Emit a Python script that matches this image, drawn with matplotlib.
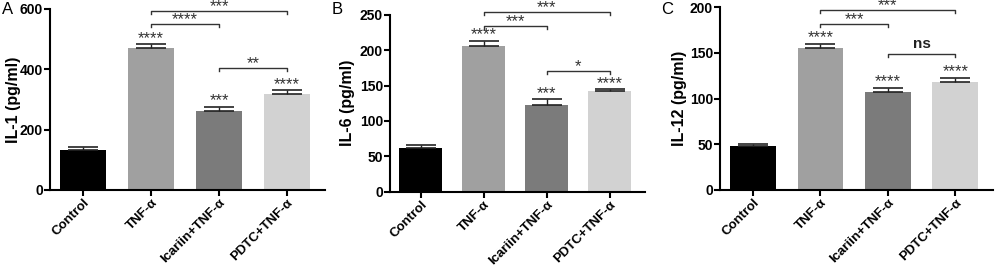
import matplotlib
matplotlib.use('Agg')
import matplotlib.pyplot as plt

plt.rcParams['font.family'] = ['Liberation Sans', 'DejaVu Sans']

groups = ['Control', 'TNF-α', 'Icariin+TNF-α', 'PDTC+TNF-α']
bar_colors = ['#000000', '#a0a0a0', '#7b7b7b', '#d2d2d2']

# Panel A: IL-1
il1_mean = [133, 470, 262, 318]
il1_err = [9, 13, 14, 13]
il1_stars = ['', '****', '***', '****']
# brackets: (start, end, height, label)
il1_brackets = [(1, 3, 592, '***'), (1, 2, 550, '****'), (2, 3, 404, '**')]

# Panel B: IL-6
il6_mean = [62, 206, 122, 143]
il6_err = [4, 7, 9, 2]
il6_stars = ['', '****', '***', '****']
il6_brackets = [(1, 3, 254, '***'), (1, 2, 234, '***'), (2, 3, 171, '*')]

# Panel C: IL-12
il12_mean = [48, 155, 107, 118]
il12_err = [2, 5, 5, 5]
il12_stars = ['', '****', '****', '****']
il12_brackets = [(1, 3, 197, '***'), (1, 2, 182, '***'), (2, 3, 149, 'ns')]


def draw_panel(ax, means, errs, stars, brackets, ymax, ystep, ylabel, label_x):
    x = list(range(len(groups)))
    ax.bar(x, means, width=0.68, color=bar_colors, zorder=2)
    ax.errorbar(x, means, yerr=[[0] * len(errs), errs], fmt='none',
                ecolor='#222222', elinewidth=1, capsize=11, capthick=1.2, zorder=3)
    # asterisks sit high in the glyph box, so anchor on the baseline
    for xi, m, e, s in zip(x, means, errs, stars):
        if s:
            ax.annotate(s, (xi, m + e), xytext=(0, 1), textcoords='offset points',
                        ha='center', va='baseline', fontsize=12, color='#333333',
                        annotation_clip=False)
    leg = ymax * 0.017
    for a, b, h, lab in brackets:
        ax.plot([a, a, b, b], [h - leg, h, h, h - leg], color='#333333',
                lw=1, clip_on=False)
        if lab == 'ns':
            ax.annotate(lab, ((a + b) / 2, h), xytext=(0, 4), textcoords='offset points',
                        ha='center', va='baseline', fontsize=11,
                        fontweight='bold', color='#222222', annotation_clip=False)
        else:
            ax.annotate(lab, ((a + b) / 2, h), xytext=(0, 0), textcoords='offset points',
                        ha='center', va='baseline', fontsize=12, color='#333333',
                        annotation_clip=False)
    ax.set_xlim(-0.49, 3.56)
    ax.set_ylim(0, ymax)
    ax.set_yticks(range(0, ymax + 1, ystep))
    ax.set_xticks(x)
    ax.set_xticklabels(groups, rotation=45, ha='right', rotation_mode='anchor',
                       fontsize=9.5, fontweight='bold')
    for lbl in ax.get_yticklabels():
        lbl.set_fontweight('bold')
        lbl.set_fontsize(10)
    ax.set_ylabel(ylabel, fontsize=11.5, fontweight='bold')
    ax.yaxis.set_label_coords(label_x, 0.5)
    for side in ['top', 'right']:
        ax.spines[side].set_visible(False)
    for side in ['left', 'bottom']:
        ax.spines[side].set_linewidth(1.5)
    ax.tick_params(width=1.5, length=4, pad=1)


fig = plt.figure(figsize=(10, 2.69), dpi=100)
axA = fig.add_axes([0.050, 0.294, 0.275, 0.673])
axB = fig.add_axes([0.390, 0.287, 0.255, 0.658])
axC = fig.add_axes([0.720, 0.294, 0.273, 0.679])

draw_panel(axA, il1_mean, il1_err, il1_stars, il1_brackets, 600, 200, 'IL-1 (pg/ml)', -0.105)
draw_panel(axB, il6_mean, il6_err, il6_stars, il6_brackets, 250, 50, 'IL-6 (pg/ml)', -0.137)
draw_panel(axC, il12_mean, il12_err, il12_stars, il12_brackets, 200, 50, 'IL-12 (pg/ml)', -0.121)

for letter, fx in [('A', 0.002), ('B', 0.332), ('C', 0.661)]:
    fig.text(fx, 1 - 10 / 269, letter, fontsize=12, ha='left', va='center')

fig.savefig('out.png', dpi=100)
plt.close(fig)
